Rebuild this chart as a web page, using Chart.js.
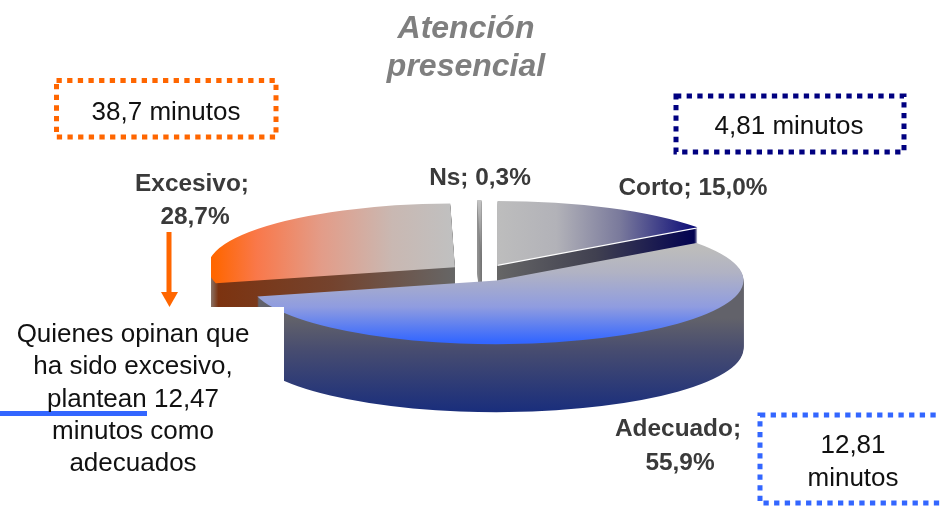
<!DOCTYPE html>
<html>
<head>
<meta charset="utf-8">
<title>Atención presencial</title>
<style>
    html, body { margin: 0; padding: 0; background: #fff; }
    #wrap { position: relative; width: 941px; height: 506px; overflow: hidden; }
</style>
<script src="https://cdn.jsdelivr.net/npm/chart.js"></script>
</head>
<body>
<div id="wrap"><canvas id="pieChart" width="941" height="506"></canvas></div>
<script>
const categories = ['Corto', 'Adecuado', 'Excesivo', 'Ns'];
const shares = [15.0, 55.9, 28.7, 0.3];
const titleLines = ['Atención', 'presencial'];
const noteLines = ['Quienes opinan que', 'ha sido excesivo,', 'plantean 12,47', 'minutos como', 'adecuados'];
const minutesShort = '4,81 minutos';
const minutesFine = ['12,81', 'minutos'];
const minutesLong = '38,7 minutos';

const SQUASH = 0.258;   // flattening of the pie
const DEPTH = 68;       // wall height in px
const EXPLODE = 34;     // how far each slice moves out from the centre
const ORANGE = '#ff6600';
const NAVY = '#000080';
const BLUE = '#3366ff';

// paint back slices first so Adecuado sits on top
const drawOrder = [2, 3, 0, 1];

function percentText(v) {
    return v.toFixed(1).replace('.', ',') + '%';
}

function midAngle(arc) {
    return (arc.startAngle + arc.endAngle) / 2;
}

// Gradient helpers: x / y are page pixels, converted to the arc's local space
function localX(arc, x) {
    return x - Math.cos(midAngle(arc)) * EXPLODE;
}

function localY(arc, y, lift) {
    return arc.y + (y - lift - arc.y) / SQUASH - Math.sin(midAngle(arc)) * EXPLODE;
}

function hGradient(ctx, arc, x0, x1, stops) {
    const g = ctx.createLinearGradient(localX(arc, x0), 0, localX(arc, x1), 0);
    stops.forEach(s => g.addColorStop(s[0], s[1]));
    return g;
}

function vGradient(ctx, arc, y0, y1, lift, stops) {
    const g = ctx.createLinearGradient(0, localY(arc, y0, lift), 0, localY(arc, y1, lift));
    stops.forEach(s => g.addColorStop(s[0], s[1]));
    return g;
}

const topFill = [
    (ctx, arc) => hGradient(ctx, arc, 497, 695, [[0, '#bdbdbd'], [0.3, '#b2b2b8'], [0.62, '#7a7a9c'], [1, '#0c0c78']]),
    (ctx, arc) => vGradient(ctx, arc, 250, 342, 0, [[0, '#bcbcbc'], [0.25, '#b0b2c4'], [0.62, '#8f9ce0'], [1, BLUE]]),
    (ctx, arc) => hGradient(ctx, arc, 214, 452, [[0, ORANGE], [0.18, '#f9784a'], [0.45, '#e39c88'], [0.75, '#c9b8b2'], [1, '#c0c0c0']]),
    (ctx, arc) => vGradient(ctx, arc, 200, 262, 0, [[0, '#c4c4c4'], [1, '#707070']])
];

const sideFill = [
    (ctx, arc) => hGradient(ctx, arc, 497, 695, [[0, '#666666'], [0.5, '#404050'], [1, '#020250']]),
    (ctx, arc, lift) => vGradient(ctx, arc, 318, 411, lift, [[0, '#62626a'], [0.35, '#474c70'], [1, '#1a2e7c']]),
    (ctx, arc) => hGradient(ctx, arc, 211, 455, [[0, '#8a7468'], [0.03, '#7c3310'], [0.5, '#74432e'], [1, '#666666']]),
    (ctx, arc) => hGradient(ctx, arc, 478, 484, [[0, '#909090'], [1, '#606060']])
];

function paintArc(ctx, arc, fill, lift) {
    const keep = arc.options;
    const mid = midAngle(arc);
    arc.options = Object.create(keep);
    arc.options.backgroundColor = fill;
    ctx.save();
    ctx.translate(0, arc.y + lift);
    ctx.scale(1, SQUASH);
    ctx.translate(0, -arc.y);
    ctx.translate(Math.cos(mid) * EXPLODE, Math.sin(mid) * EXPLODE);
    arc.draw(ctx);
    ctx.restore();
    arc.options = keep;
}

// Flattened pie with walls, made from the arc elements of the dataset
const pie3d = {
    id: 'pie3d',
    beforeDatasetsDraw(chart) {
        const ctx = chart.ctx;
        const arcs = chart.getDatasetMeta(0).data;
        ctx.save();
        // the plot frame trims the pie on its left side
        ctx.beginPath();
        ctx.rect(211, 0, chart.width - 211, chart.height);
        ctx.clip();
        drawOrder.forEach(i => {
            for (let d = DEPTH; d >= 1; d--) {
                paintArc(ctx, arcs[i], sideFill[i](ctx, arcs[i], d), d);
            }
            // thin light edge under the Corto slice
            if (i === 0) paintArc(ctx, arcs[i], '#ffffff', 1.3);
            paintArc(ctx, arcs[i], topFill[i](ctx, arcs[i], 0), 0);
        });
        ctx.restore();
        return false;
    }
};

function dottedBox(ctx, x0, y0, x1, y1, color) {
    ctx.save();
    ctx.strokeStyle = color;
    ctx.lineWidth = 5;
    ctx.setLineDash([5.3, 5.35]);
    ctx.strokeRect(x0, y0, x1 - x0, y1 - y0);
    ctx.restore();
}

function textLine(ctx, text, x, y, font, color) {
    ctx.font = font;
    ctx.fillStyle = color;
    ctx.textAlign = 'center';
    ctx.textBaseline = 'alphabetic';
    ctx.fillText(text, x, y);
}

// Title, slice labels, minute boxes and the side note
const annotations = {
    id: 'annotations',
    afterDraw(chart) {
        const ctx = chart.ctx;
        const regular = '26px "Liberation Sans", Arial, sans-serif';
        const bold = 'bold 24.4px "Liberation Sans", Arial, sans-serif';
        const ink = '#111111';
        const labelInk = '#3a3a3a';

        // the note sits on a white panel covering the pie's left edge
        ctx.fillStyle = '#ffffff';
        ctx.fillRect(0, 307, 284, 180);

        ctx.fillStyle = BLUE;
        ctx.fillRect(0, 411, 147, 5);

        ctx.fillStyle = ORANGE;
        ctx.fillRect(166.5, 232, 5, 61);
        ctx.beginPath();
        ctx.moveTo(161, 292);
        ctx.lineTo(178, 292);
        ctx.lineTo(169.5, 307);
        ctx.closePath();
        ctx.fill();

        titleLines.forEach((t, i) => {
            textLine(ctx, t, 466, 38 + i * 37.5, 'italic bold 32px "Liberation Sans", Arial, sans-serif', '#7f7f7f');
        });

        textLine(ctx, categories[2] + ';', 192, 191, bold, labelInk);
        textLine(ctx, percentText(shares[2]), 195, 224, bold, labelInk);
        textLine(ctx, categories[3] + '; ' + percentText(shares[3]), 480, 185, bold, labelInk);
        textLine(ctx, categories[0] + '; ' + percentText(shares[0]), 693, 195, bold, labelInk);
        textLine(ctx, categories[1] + ';', 678, 436, bold, labelInk);
        textLine(ctx, percentText(shares[1]), 680, 470, bold, labelInk);

        dottedBox(ctx, 56.5, 80.5, 276, 137, ORANGE);
        dottedBox(ctx, 676, 96, 904, 152, NAVY);
        dottedBox(ctx, 760, 415, 960, 503, BLUE);

        textLine(ctx, minutesLong, 166, 120, regular, ink);
        textLine(ctx, minutesShort, 789, 134, regular, ink);
        textLine(ctx, minutesFine[0], 853, 453, regular, ink);
        textLine(ctx, minutesFine[1], 853, 486, regular, ink);

        noteLines.forEach((t, i) => {
            textLine(ctx, t, 133, 342 + i * 32.3, regular, ink);
        });
    }
};

new Chart(document.getElementById('pieChart').getContext('2d'), {
    type: 'pie',
    data: {
        labels: categories,
        datasets: [{
            data: shares,
            radius: 247,
            borderWidth: 0,
            backgroundColor: [NAVY, BLUE, ORANGE, '#999999']
        }]
    },
    options: {
        responsive: false,
        animation: false,
        layout: { padding: { left: 23, top: 39 } },
        plugins: {
            legend: { display: false },
            tooltip: { enabled: false }
        }
    },
    plugins: [pie3d, annotations]
});
</script>
</body>
</html>
